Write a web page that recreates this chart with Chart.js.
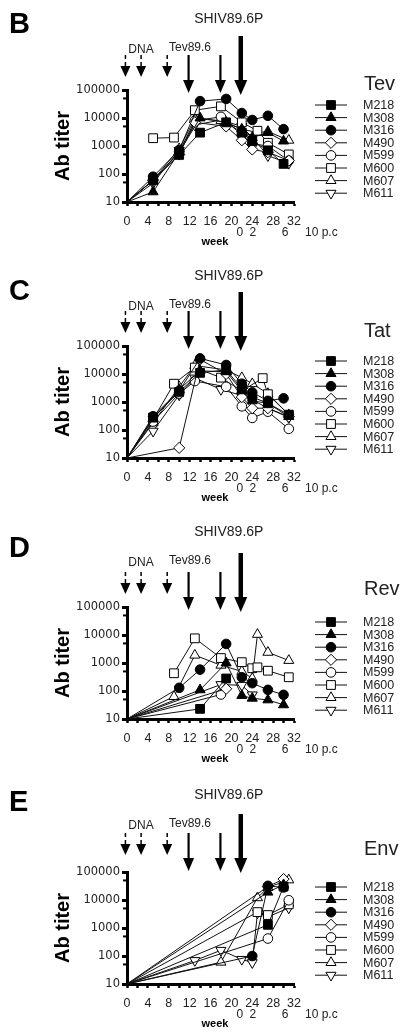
<!DOCTYPE html>
<html lang="en">
<head>
<meta charset="UTF-8">
<title>Ab titer - Tev / Tat / Rev / Env</title>
<script src="https://cdn.jsdelivr.net/npm/chart.js"></script>
<style>
    html, body { margin: 0; padding: 0; background: #fff; overflow: hidden; }
    body { width: 400px; height: 1036px; position: relative; }
    .panel { position: absolute; left: 0; width: 400px; height: 260px; }
</style>
</head>
<body>
<div class="panel" style="top:0px"><canvas id="chartB" width="400" height="260"></canvas></div>
<div class="panel" style="top:256px"><canvas id="chartC" width="400" height="260"></canvas></div>
<div class="panel" style="top:517px"><canvas id="chartD" width="400" height="260"></canvas></div>
<div class="panel" style="top:782px"><canvas id="chartE" width="400" height="260"></canvas></div>

<script>
// ---- data (week, titer) per animal, order = SERIES ----
const SERIES = ['M218', 'M308', 'M316', 'M490', 'M599', 'M600', 'M607', 'M611'];
const STYLES = ['rect', 'triangle', 'circle', 'rectRot', 'circle', 'rect', 'triangle', 'triangle'];
const FILLED = [true, true, true, false, false, false, false, false];
const ROTATION = [0, 0, 0, 0, 0, 0, 0, 180];
const RADII = [6.2, 5.8, 4.8, 5.6, 4.8, 6.2, 5.8, 5.8];

const Y_TICKS = [10, 100, 1000, 10000, 100000];
const Y_MINOR = [50, 500, 5000, 50000];
const PC_LABELS = ['0', '2', '6', '10'];
const PC_WEEKS = [21.6, 24.1, 30.3, 35.4];
const DNA_WEEKS = [-0.3, 2.7, 7.7];
const BOOST_WEEKS = [11.8, 17.9];
const CHALLENGE_WEEK = 21.8;

const TEV = [
    [[0, 10], [5, 60], [10, 480], [14, 3000], [19, 7000], [22, 3000], [24, 1500], [27, 700], [30, 230]],
    [[0, 10], [5, 23], [10, 600], [14, 10000], [19, 7000], [22, 4000], [24, 2000], [27, 3000], [30, 1500]],
    [[0, 10], [5, 80], [10, 720], [14, 40000], [19, 48000], [22, 15000], [24, 8500], [27, 12000], [30, 4000]],
    [[0, 10], [5, 60], [10, 500], [13, 7000], [19, 5000], [22, 1600], [24, 750], [27, 600], [31, 300]],
    [[0, 10], [5, 60], [10, 600], [13, 8000], [18, 11000], [22, 2500], [24, 1200], [27, 1000], [31, 300]],
    [[5, 1900], [9, 2000], [13, 19000], [18, 26000], [22, 7000], [25, 3500], [27, 1300], [31, 500]],
    [[0, 10], [5, 60], [10, 800], [13, 9500], [18, 8000], [22, 4000], [25, 3000], [27, 3300], [31, 1600]],
    [[0, 10], [5, 47], [10, 700], [13, 5600], [18, 8500], [22, 5000], [24, 2000], [27, 450], [31, 240]]
];
const TAT = [
    [[0, 10], [5, 280], [10, 2300], [14, 11000], [19, 14000], [22, 3000], [24, 1500], [27, 900], [31, 350]],
    [[0, 10], [5, 250], [10, 2800], [14, 13000], [19, 12000], [22, 2500], [24, 1100], [27, 900], [31, 300]],
    [[0, 10], [5, 310], [10, 2500], [14, 36000], [19, 21000], [22, 4500], [24, 2200], [27, 1100], [30, 1350]],
    [[0, 10], [10, 23], [14, 33000], [19, 10000], [22, 1500], [24, 600], [27, 600], [31, 300]],
    [[0, 10], [5, 200], [10, 2000], [13, 5600], [19, 3500], [22, 700], [24, 270], [27, 450], [31, 110]],
    [[0, 10], [5, 240], [9, 4500], [13, 17000], [18, 7400], [22, 2500], [26, 7100], [27, 1900], [31, 350]],
    [[0, 10], [5, 180], [10, 3500], [13, 20000], [19, 14000], [22, 7400], [24, 4500], [27, 2000], [31, 350]],
    [[0, 10], [5, 91], [10, 1800], [13, 7200], [18, 2800], [22, 1700], [24, 1200], [27, 600], [31, 280]]
];
const REV = [
    [[0, 10], [14, 23], [19, 280]],
    [[0, 10], [14, 110], [19, 1000], [22, 69], [24, 55], [27, 48], [30, 32]],
    [[0, 10], [10, 130], [14, 580], [19, 4800], [22, 310], [24, 190], [27, 110], [30, 73]],
    [[0, 10], [19, 120]],
    [[0, 10], [18, 75]],
    [[9, 430], [13, 7600], [18, 1500], [22, 1070], [24, 650], [25, 700], [27, 530], [31, 310]],
    [[0, 10], [9, 63], [13, 1900], [18, 830], [22, 500], [24, 280], [25, 10500], [27, 2400], [31, 1230]],
    [[0, 10], [18, 170], [22, 160], [24, 73]]
];
const ENV = [
    [[0, 10], [27, 1300], [30, 30000]],
    [[0, 10], [27, 19000], [30, 35000]],
    [[0, 10], [24, 100], [27, 32000], [30, 28000]],
    [[0, 10], [27, 30000], [30, 56000]],
    [[0, 10], [27, 420], [31, 9800]],
    [[0, 10], [25, 3700], [27, 2900], [31, 7000]],
    [[0, 10], [18, 60], [25, 12000], [27, 28000], [31, 52000]],
    [[0, 10], [13, 69], [18, 160], [22, 76], [24, 58], [25, 3500], [27, 2500], [31, 5200]]
];

// layout tweaks per panel (canvas-local pixels)
const PANELS = [
    { id: 'chartB', letter: 'B', title: 'Tev', data: TEV, letterY: 33, titleY: 90, textShift: 0, arrowShift: 0 },
    { id: 'chartC', letter: 'C', title: 'Tat', data: TAT, letterY: 44, titleY: 81, textShift: 1, arrowShift: 0 },
    { id: 'chartD', letter: 'D', title: 'Rev', data: REV, letterY: 40, titleY: 78, textShift: -4, arrowShift: 0 },
    { id: 'chartE', letter: 'E', title: 'Env', data: ENV, letterY: 29, titleY: 73, textShift: -6, arrowShift: -4 }
];

const INK = '#111';
const TEXT = '#222';
const SANS = '"Liberation Sans", Arial, sans-serif';

function drawMarker(ctx, i, x, y, r) {
    const style = STYLES[i];
    ctx.beginPath();
    if (style === 'circle') {
        ctx.arc(x, y, r, 0, Math.PI * 2);
    } else if (style === 'rect') {
        const s = r * Math.SQRT1_2;
        ctx.rect(x - s, y - s, 2 * s, 2 * s);
    } else if (style === 'rectRot') {
        ctx.moveTo(x, y - r); ctx.lineTo(x + r, y); ctx.lineTo(x, y + r); ctx.lineTo(x - r, y);
        ctx.closePath();
    } else {
        let a = ROTATION[i] * Math.PI / 180;
        for (let k = 0; k < 3; k++) {
            const px = x + Math.sin(a) * r, py = y - Math.cos(a) * r;
            if (k === 0) ctx.moveTo(px, py); else ctx.lineTo(px, py);
            a += Math.PI * 2 / 3;
        }
        ctx.closePath();
    }
    ctx.fillStyle = FILLED[i] ? '#000' : '#fff';
    ctx.fill();
    ctx.lineWidth = 1;
    ctx.strokeStyle = '#000';
    ctx.stroke();
}

function arrow(ctx, x, top, baseY, tipY, half, shaftW, dashed) {
    ctx.save();
    ctx.strokeStyle = '#000';
    ctx.lineWidth = shaftW;
    if (dashed) ctx.setLineDash([4, 3]);
    ctx.beginPath();
    ctx.moveTo(x, top);
    ctx.lineTo(x, baseY + 1);
    ctx.stroke();
    ctx.setLineDash([]);
    ctx.fillStyle = '#000';
    ctx.beginPath();
    ctx.moveTo(x - half, baseY);
    ctx.lineTo(x + half, baseY);
    ctx.lineTo(x, tipY);
    ctx.closePath();
    ctx.fill();
    ctx.restore();
}

// everything around the plot: letters, arrows, legend, extra labels
const decor = {
    id: 'decor',
    afterDraw(chart, args, opts) {
        const p = opts.panel;
        const ctx = chart.ctx;
        const xs = chart.scales.x, ys = chart.scales.y;
        const area = chart.chartArea;
        const t = p.textShift, a = p.arrowShift;
        ctx.save();

        // minor ticks on y axis
        ctx.strokeStyle = '#000';
        ctx.lineWidth = 2;
        Y_MINOR.forEach(v => {
            const y = ys.getPixelForValue(v);
            ctx.beginPath();
            ctx.moveTo(area.left - 4, y);
            ctx.lineTo(area.left, y);
            ctx.stroke();
        });

        // panel letter and antigen name
        ctx.fillStyle = '#000';
        ctx.textBaseline = 'alphabetic';
        ctx.textAlign = 'left';
        ctx.font = 'bold 29px ' + SANS;
        ctx.fillText(p.letter, 9, p.letterY);
        ctx.fillStyle = TEXT;
        ctx.font = '20px ' + SANS;
        ctx.fillText(p.title, 364, p.titleY);

        // vaccination / challenge labels
        ctx.textAlign = 'center';
        ctx.font = '14px ' + SANS;
        ctx.fillText('SHIV89.6P', xs.getPixelForValue(CHALLENGE_WEEK) - 12, 23 + t);
        ctx.font = '12px ' + SANS;
        ctx.fillText('DNA', 141, 53 + t);
        ctx.fillText('Tev89.6', 190, 51 + t);

        DNA_WEEKS.forEach(w => arrow(ctx, xs.getPixelForValue(w), 55 + a, 66 + a, 77 + a, 5, 1.5, true));
        BOOST_WEEKS.forEach(w => arrow(ctx, xs.getPixelForValue(w), 55 + a, 80 + a, 93 + a, 5.5, 2.2, false));
        arrow(ctx, xs.getPixelForValue(CHALLENGE_WEEK), 36 + a, 80 + a, 95 + a, 6.5, 4.5, false);

        // second row of week labels (post challenge)
        ctx.font = '12px ' + SANS;
        ctx.textBaseline = 'middle';
        PC_LABELS.forEach((s, i) => ctx.fillText(s, xs.getPixelForValue(PC_WEEKS[i]), area.bottom + 31));
        ctx.textAlign = 'left';
        ctx.fillText('p.c', xs.getPixelForValue(37.3), area.bottom + 31);

        ctx.textAlign = 'center';
        ctx.font = 'bold 11px ' + SANS;
        ctx.fillStyle = '#000';
        ctx.fillText('week', 215, area.bottom + 40);

        // y axis title
        ctx.save();
        ctx.translate(63, (area.top + area.bottom) / 2);
        ctx.rotate(-Math.PI / 2);
        ctx.font = 'bold 20px ' + SANS;
        ctx.fillText('Ab titer', 0, 0);
        ctx.restore();

        // legend
        ctx.textAlign = 'left';
        ctx.font = '12.5px ' + SANS;
        SERIES.forEach((name, i) => {
            const y = area.top + 15 + i * 12.6;
            ctx.strokeStyle = INK;
            ctx.lineWidth = 1;
            ctx.beginPath();
            ctx.moveTo(315, y);
            ctx.lineTo(347, y);
            ctx.stroke();
            drawMarker(ctx, i, 331, y, RADII[i]);
            ctx.fillStyle = TEXT;
            ctx.fillText(name, 363, y + 0.5);
        });
        ctx.restore();
    }
};

function makeChart(p) {
    const datasets = p.data.map((pts, i) => ({
        label: SERIES[i],
        data: pts.map(q => ({ x: q[0], y: q[1] })),
        borderColor: INK,
        borderWidth: 1,
        fill: false,
        tension: 0,
        clip: false,
        pointStyle: STYLES[i],
        pointRotation: ROTATION[i],
        pointRadius: c => (c.raw && c.raw.x === 0 ? 0 : RADII[i]),
        pointBackgroundColor: FILLED[i] ? '#000' : '#fff',
        pointBorderColor: '#000',
        pointBorderWidth: 1
    }));

    new Chart(document.getElementById(p.id), {
        type: 'line',
        data: { datasets },
        options: {
            responsive: false,
            animation: false,
            layout: { padding: { left: 0, top: 90, right: 106, bottom: 0 } },
            plugins: {
                legend: { display: false },
                tooltip: { enabled: false },
                decor: { panel: p }
            },
            scales: {
                x: {
                    type: 'linear',
                    min: 0,
                    max: 32,
                    afterFit(s) { s.height = 58; },
                    ticks: {
                        stepSize: 2,
                        autoSkip: false,
                        maxRotation: 0,
                        padding: 8,
                        color: TEXT,
                        font: { family: SANS, size: 12.5 },
                        callback: v => (v % 4 === 0 ? String(v) : '')
                    },
                    grid: { drawOnChartArea: false, drawTicks: true, tickLength: 4, tickWidth: 2.5, tickColor: '#000' },
                    border: { display: true, color: '#000', width: 3 }
                },
                y: {
                    type: 'logarithmic',
                    min: 10,
                    max: 100000,
                    afterFit(s) { s.width = 127; },
                    afterBuildTicks(s) { s.ticks = Y_TICKS.map(v => ({ value: v })); },
                    ticks: {
                        autoSkip: false,
                        padding: 2,
                        color: TEXT,
                        font: { family: '"DejaVu Sans", sans-serif', size: 11.5 },
                        callback: v => String(v)
                    },
                    grid: { drawOnChartArea: false, drawTicks: true, tickLength: 5, tickWidth: 3, tickColor: '#000' },
                    border: { display: true, color: '#000', width: 3 }
                }
            }
        },
        plugins: [decor]
    });
}

PANELS.forEach(makeChart);
</script>
</body>
</html>
